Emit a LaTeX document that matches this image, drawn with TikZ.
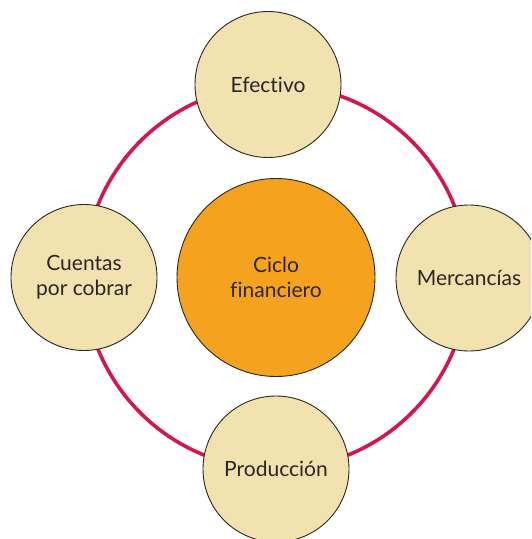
\documentclass[tikz,border=0pt]{standalone}
\usepackage{fontspec}
\setmainfont[Ligatures={NoCommon,NoRare}]{Lato}
\definecolor{ringred}{HTML}{D4164F}
\definecolor{beige}{HTML}{F1E2B0}
\definecolor{orangec}{HTML}{F5A31E}
\definecolor{edge}{HTML}{2B2622}
\begin{document}
\begin{tikzpicture}[x=1pt,y=-1pt,
  stage/.style={circle,draw=edge,line width=0.9pt,fill=beige,minimum size=146pt,inner sep=0pt,align=center,font=\fontsize{21}{25}\selectfont,text=edge},
  hub/.style={circle,draw=edge,line width=0.9pt,fill=orangec,minimum size=198pt,inner sep=0pt,align=center,font=\fontsize{21}{25}\selectfont,text=edge}]
\useasboundingbox (0,0) rectangle (531,539);
\clip (0,0) rectangle (531,539);
\coordinate (c) at (276,277);
\draw[ringred,line width=3.6pt] (c) circle[radius=192];
\node[stage] (efectivo) at (268,84.5) {Efectivo};
\node[stage] (cuentas) at (84,277.5) {Cuentas\\por cobrar};
\node[stage] (mercancias) at (469,278) {Mercancías};
\node[stage] (produccion) at (276,469) {Producción};
\node[hub] (ciclo) at (276,277.5) {Ciclo\\financiero};
\end{tikzpicture}
\end{document}
